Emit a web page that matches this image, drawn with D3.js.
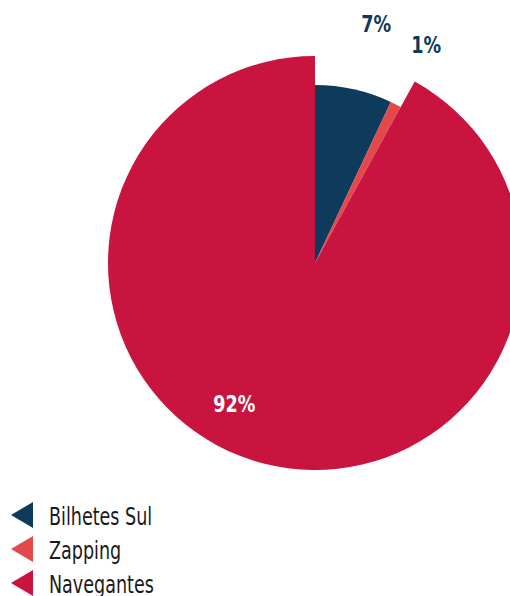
<!DOCTYPE html>
<html><head><meta charset="utf-8">
<script src="https://cdn.jsdelivr.net/npm/d3@7"></script>
<style>body{margin:0;background:#fff}svg{display:block}text{font-stretch:condensed}</style>
</head><body>
<svg id="c" width="510" height="596"></svg>
<script>
const categories = ["Bilhetes Sul", "Zapping", "Navegantes"];
const values = [7, 1, 92];
const labels = ["7%", "1%", "92%"];
const colors = ["#0e3a5c", "#e5484a", "#c8143f"];

const svg = d3.select("#c");
const font = "'DejaVu Sans Condensed','Liberation Sans Narrow','DejaVu Sans',sans-serif";
const cx = 315, cy = 263;
const rSmall = 178, rBig = 207;
const rScale = d3.scaleThreshold().domain([50]).range([rSmall, rBig]);

const pie = d3.pie().sort(null).value(d => d.v);
const data = pie(categories.map((c, i) => ({c, v: values[i], l: labels[i], col: colors[i]})));
const g = svg.append("g").attr("transform", `translate(${cx},${cy})`);

g.selectAll("path").data(data).join("path")
  .attr("d", d => d3.arc().innerRadius(0).outerRadius(rScale(d.data.v))(d))
  .attr("fill", d => d.data.col);

// labels
data.forEach((d, i) => {
  const big = d.data.v > 50;
  let a = (d.startAngle + d.endAngle) / 2;
  let r = 245;
  if (big) { a += 0.27; r = 162; }
  else if (i === 0) { a += 0.03; r = 247; }
  const x = r * Math.sin(a), y = -r * Math.cos(a);
  g.append("text")
    .attr("transform", `translate(${x},${y}) scale(0.85,1)`)
    .attr("text-anchor", "middle").attr("dominant-baseline", "central")
    .attr("font-family", font).attr("font-weight", "bold").attr("font-size", 23)
    .attr("fill", big ? "#fff" : "#0e3a5c")
    .text(d.data.l);
});

// legend
const ly = d3.scaleLinear().domain([0, 1]).range([515, 549]);
const leg = svg.append("g");
categories.forEach((c, i) => {
  const y = ly(i);
  leg.append("path").attr("d", `M11,${y} L33,${y-13} L33,${y+13} Z`).attr("fill", colors[i]);
  leg.append("text").attr("transform", `translate(49,${y + 1}) scale(0.78,1)`).attr("dominant-baseline", "central")
    .attr("font-family", font).attr("font-size", 25).attr("fill", "#1a1a1a").text(c);
});
</script>
</body></html>
